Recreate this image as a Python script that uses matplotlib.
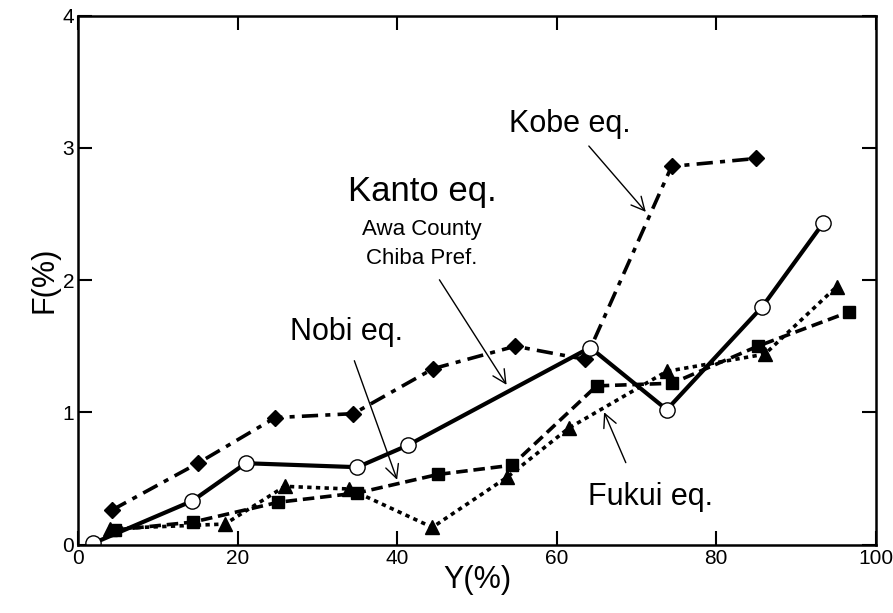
import matplotlib
matplotlib.use('Agg')
import matplotlib.pyplot as plt

plt.rcParams['font.family'] = ['Liberation Sans', 'DejaVu Sans']

# Kanto eq. (Awa County, Chiba Pref.) - open circles, solid
kanto_y = [1.9, 14.3, 21.0, 35.0, 41.3, 64.2, 73.8, 85.8, 93.4]
kanto_f = [0.01, 0.33, 0.615, 0.585, 0.75, 1.49, 1.02, 1.80, 2.43]

# Kobe eq. - diamonds, dash-dot
kobe_y = [4.2, 15.0, 24.7, 34.5, 44.5, 54.8, 63.6, 74.4, 85.0]
kobe_f = [0.26, 0.615, 0.96, 0.99, 1.33, 1.50, 1.40, 2.86, 2.92]

# Nobi eq. - squares, dashed
nobi_y = [4.6, 14.4, 25.1, 35.0, 45.1, 54.4, 65.0, 74.5, 85.2, 96.7]
nobi_f = [0.11, 0.17, 0.32, 0.39, 0.53, 0.60, 1.20, 1.22, 1.50, 1.76]

# Fukui eq. - triangles, dotted
fukui_y = [4.0, 18.4, 25.9, 34.0, 44.4, 53.8, 61.5, 73.8, 86.1, 95.1]
fukui_f = [0.12, 0.155, 0.44, 0.42, 0.13, 0.51, 0.88, 1.31, 1.44, 1.95]

x_ticks = [0, 20, 40, 60, 80, 100]
y_ticks = [0, 1, 2, 3, 4]

fig = plt.figure(figsize=(8.93, 6.13), dpi=100)
ax = fig.add_axes([0.0877, 0.1117, 0.8929, 0.8627])

ax.plot(fukui_y, fukui_f, color='black', lw=2.6, linestyle=(0, (1.2, 1.2)),
        marker='^', ms=10, mfc='black', mec='black')
ax.plot(nobi_y, nobi_f, color='black', lw=2.6, linestyle=(0, (3.2, 1.6)),
        marker='s', ms=9, mfc='black', mec='black')
ax.plot(kobe_y, kobe_f, color='black', lw=2.6,
        linestyle=(0, (4.5, 2.0, 1.4, 2.0)),
        marker='D', ms=8.5, mfc='black', mec='black')
ax.plot(kanto_y, kanto_f, color='black', lw=3.0, linestyle='-',
        marker='o', ms=11, mfc='white', mec='black', mew=1.0)

ax.set_xlim(0, 100)
ax.set_ylim(0, 4)
ax.set_xticks(x_ticks)
ax.set_yticks(y_ticks)
ax.tick_params(direction='in', length=10, width=1.5, top=True, right=True,
               labelsize=15, pad=3)
for sp in ax.spines.values():
    sp.set_linewidth(1.8)

ax.set_xlabel('Y(%)', fontsize=22, labelpad=-2)
ax.set_ylabel('F(%)', fontsize=22, labelpad=2)

arrow = dict(arrowstyle='->', color='black', lw=1.0, mutation_scale=24)

ax.text(61.7, 3.18, 'Kobe eq.', fontsize=22, ha='center', va='center')
ax.annotate('', xy=(71.4, 2.50), xytext=(63.8, 3.03), arrowprops=arrow)

ax.text(43.1, 2.67, 'Kanto eq.', fontsize=25, ha='center', va='center')
ax.text(43.1, 2.38, 'Awa County', fontsize=16, ha='center', va='center')
ax.text(43.1, 2.16, 'Chiba Pref.', fontsize=16, ha='center', va='center')
ax.annotate('', xy=(53.9, 1.19), xytext=(45.1, 2.02), arrowprops=arrow)

ax.text(33.6, 1.61, 'Nobi eq.', fontsize=22, ha='center', va='center')
ax.annotate('', xy=(40.1, 0.47), xytext=(34.5, 1.41), arrowprops=arrow)

ax.text(71.7, 0.36, 'Fukui eq.', fontsize=22, ha='center', va='center')
ax.annotate('', xy=(65.8, 1.02), xytext=(68.8, 0.60), arrowprops=arrow)

fig.savefig('out.png', dpi=100)
